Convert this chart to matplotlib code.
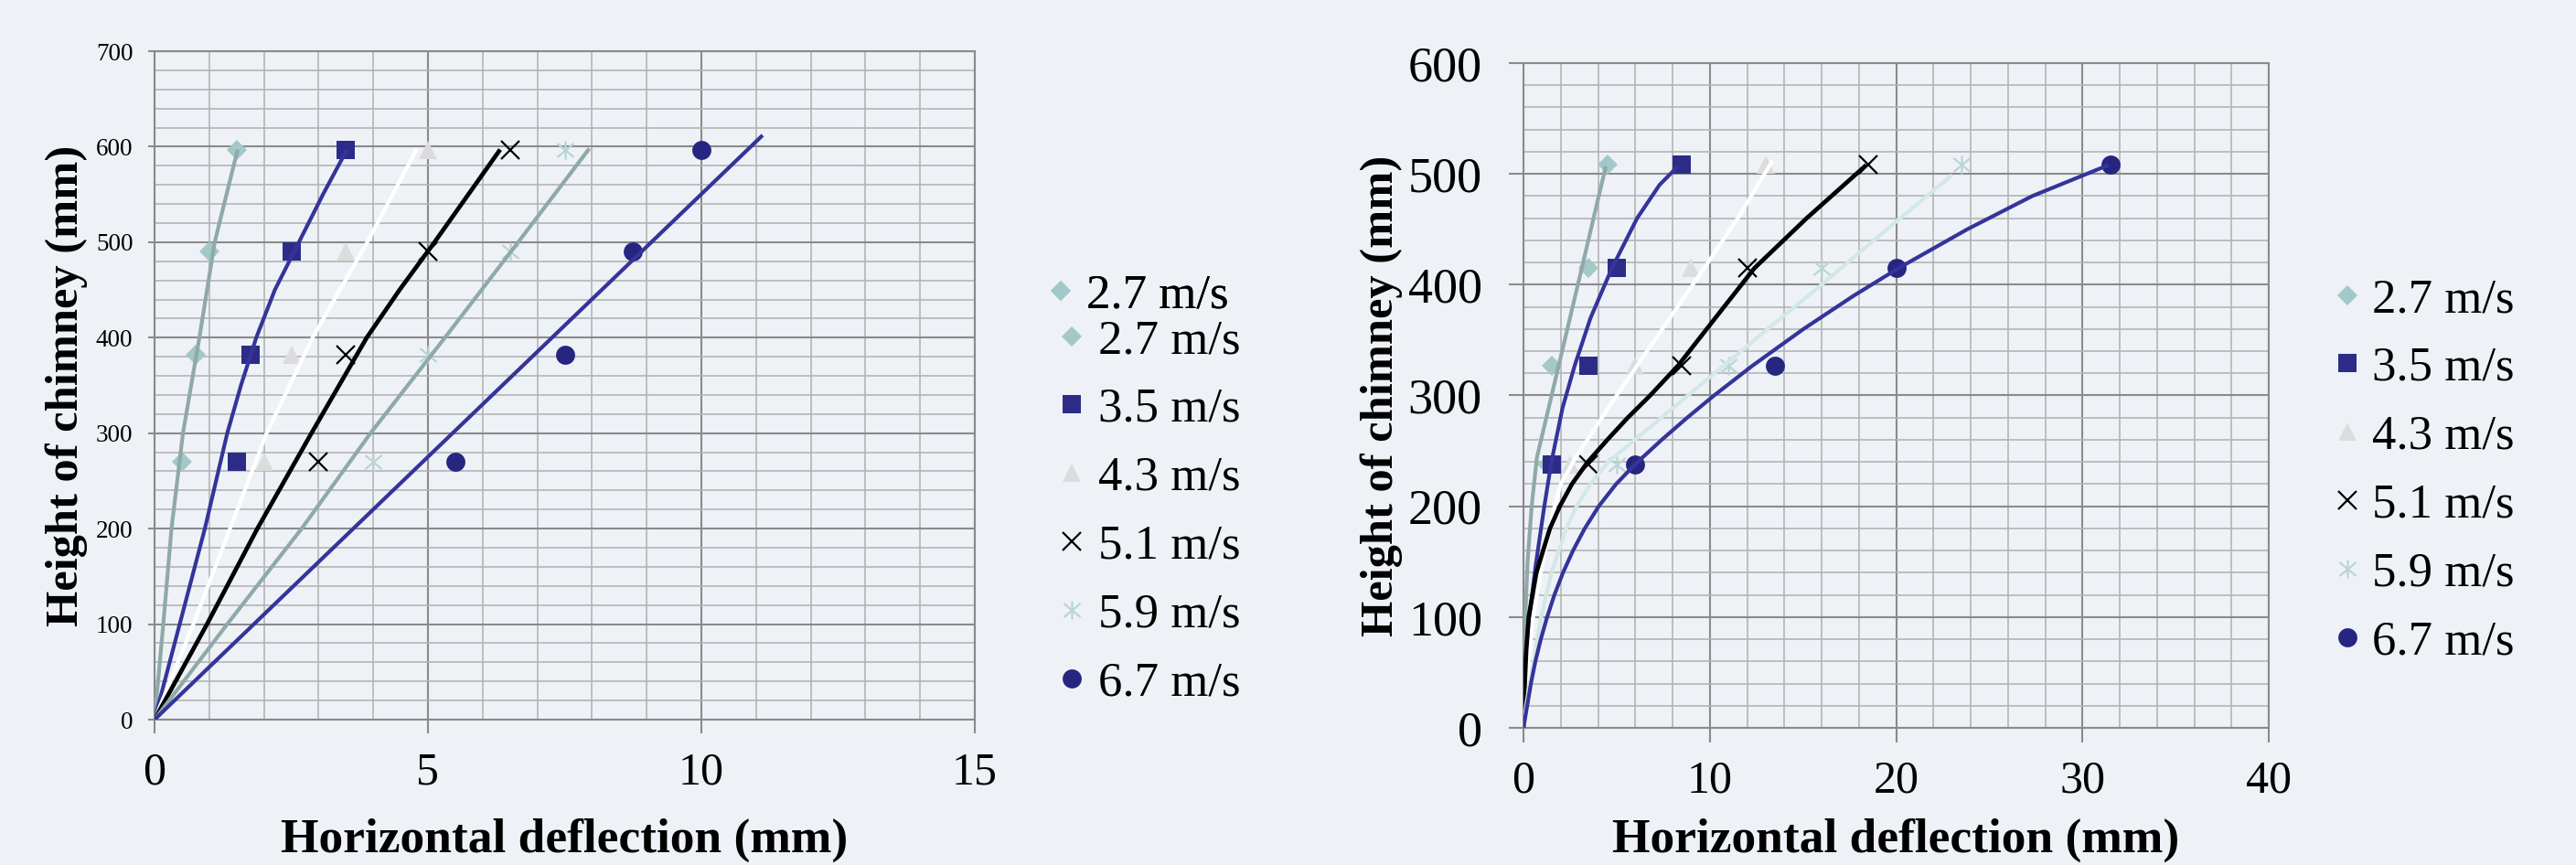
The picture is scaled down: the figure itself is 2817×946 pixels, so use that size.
import matplotlib
matplotlib.use("Agg")
import matplotlib.pyplot as plt
from matplotlib.lines import Line2D
from matplotlib.path import Path
from matplotlib.ticker import MultipleLocator

plt.rcParams['font.family'] = ['Liberation Serif', 'DejaVu Serif']

# ---------------- data ----------------
speeds = ["2.7 m/s", "3.5 m/s", "4.3 m/s", "5.1 m/s", "5.9 m/s", "6.7 m/s"]

# Left chart: measured points
left_heights = [270, 382, 490, 597]
left_defl = {
    "2.7 m/s": [0.5, 0.75, 1.0, 1.5],
    "3.5 m/s": [1.5, 1.75, 2.5, 3.5],
    "4.3 m/s": [2.0, 2.5, 3.5, 5.0],
    "5.1 m/s": [3.0, 3.5, 5.0, 6.5],
    "5.9 m/s": [4.0, 5.0, 6.5, 7.5],
    "6.7 m/s": [5.5, 7.5, 8.75, 10.0],
}
# Left chart: fitted curves
left_fit_x = {
    "2.7 m/s": [0, 0.16, 0.31, 0.52, 0.82, 1.10, 1.52],
    "3.5 m/s": [0, 0.46, 0.92, 1.33, 1.58, 1.86, 2.2, 2.64, 3.08, 3.52],
    "4.3 m/s": [0, 0.71, 1.38, 2.05, 2.89, 3.89, 4.80],
    "5.1 m/s": [0, 0.96, 1.88, 2.87, 3.88, 4.48, 5.12, 6.32],
    "5.9 m/s": [0, 1.33, 2.69, 3.95, 5.31, 6.65, 7.95],
    "6.7 m/s": [0, 11.12],
}
left_fit_y = {
    "2.7 m/s": [0, 100, 200, 300, 400, 500, 597],
    "3.5 m/s": [0, 100, 200, 300, 350, 400, 450, 500, 550, 597],
    "4.3 m/s": [0, 100, 200, 300, 400, 500, 598],
    "5.1 m/s": [0, 100, 200, 300, 400, 450, 500, 597],
    "5.9 m/s": [0, 100, 200, 300, 400, 500, 598],
    "6.7 m/s": [0, 612],
}

# Right chart: measured points
right_heights = [238, 327, 415, 508]
right_defl = {
    "2.7 m/s": [1.3, 1.5, 3.5, 4.5],
    "3.5 m/s": [1.5, 3.5, 5.0, 8.5],
    "4.3 m/s": [2.5, 6.0, 9.0, 13.0],
    "5.1 m/s": [3.5, 8.5, 12.0, 18.5],
    "5.9 m/s": [5.0, 11.0, 16.0, 23.5],
    "6.7 m/s": [6.0, 13.5, 20.0, 31.5],
}
# Right chart: fitted curves
right_fit_x = {
    "2.7 m/s": [0, 0.02, 0.10, 0.22, 0.44, 0.72, 1.51, 2.92, 4.42],
    "3.5 m/s": [0, 0.06, 0.28, 0.65, 1.1, 1.5, 2.1, 2.75, 3.6, 4.75, 6.1, 7.3, 8.3],
    "4.3 m/s": [0, 0.07, 0.28, 0.52, 0.93, 1.42, 1.67, 2.0, 2.8, 5.0, 6.1, 9.7, 11.5, 13.37],
    "5.1 m/s": [0, 0.02, 0.07, 0.15, 0.28, 0.69, 1.42, 1.95, 2.6, 3.45, 4.5, 5.6, 6.8, 8.3, 10.3, 12.4, 15.2, 17.2, 18.4],
    "5.9 m/s": [0, 0.14, 0.33, 0.55, 0.95, 1.5, 2.3, 2.85, 3.6, 4.55, 7.4, 10.25, 13.1, 16.0, 18.8, 21.65, 23.0],
    "6.7 m/s": [0, 0.2, 0.40, 0.64, 0.93, 1.27, 1.66, 2.12, 2.66, 3.29, 4.04, 4.97, 6.0, 7.42, 8.79, 10.23,
                12.3, 15.03, 17.72, 20.14, 23.82, 27.31, 31.4],
}
right_fit_y = {
    "2.7 m/s": [0, 50, 100, 150, 200, 244, 300, 400, 507],
    "3.5 m/s": [0, 50, 95, 146, 198, 240, 289, 327, 370, 415, 460, 490, 507],
    "4.3 m/s": [0, 20, 60, 100, 140, 180, 200, 220, 244, 300, 327, 415, 460, 512],
    "5.1 m/s": [0, 20, 40, 70, 100, 140, 180, 200, 220, 240, 260, 280, 300, 327, 370, 415, 460, 490, 508],
    "5.9 m/s": [0, 20, 40, 60, 100, 140, 180, 200, 220, 240, 280, 320, 360, 400, 440, 480, 499],
    "6.7 m/s": [0, 20, 40, 60, 80, 100, 120, 140, 160, 180, 200, 220, 238, 260, 280, 300,
                327, 360, 390, 415, 450, 480, 508],
}

# ---------------- styles ----------------
BG = "#eef2f7"
asterisk = Path([(0, -1), (0, 1), (-0.9, -0.75), (0.9, 0.75), (-0.9, 0.75), (0.9, -0.75)],
                [Path.MOVETO, Path.LINETO, Path.MOVETO, Path.LINETO, Path.MOVETO, Path.LINETO])
mstyle = {
    "2.7 m/s": dict(marker="D", ms=11.0, color="#a2c8c8"),
    "3.5 m/s": dict(marker="s", ms=15.0, color="#2c2c88"),
    "4.3 m/s": dict(marker="^", ms=15.0, color="#dcdcdc"),
    "5.1 m/s": dict(marker="x", ms=14.5, color="#000000", mew=1.6),
    "5.9 m/s": dict(marker=asterisk, ms=14.5, color="#b9d6d3", mew=1.6),
    "6.7 m/s": dict(marker="o", ms=15.0, color="#262680"),
}
left_line = {"2.7 m/s": "#8fa9a9", "3.5 m/s": "#34349a", "4.3 m/s": "#ffffff",
             "5.1 m/s": "#000000", "5.9 m/s": "#8fa9a9", "6.7 m/s": "#34349a"}
right_line = {"2.7 m/s": "#8fa9a9", "3.5 m/s": "#34349a", "4.3 m/s": "#ffffff",
              "5.1 m/s": "#000000", "5.9 m/s": "#d3e8e6", "6.7 m/s": "#34349a"}
MAJ = "#8a8a8a"
MIN = "#b4b4b4"

fig = plt.figure(figsize=(28.17, 9.46), dpi=100, facecolor=BG)
W, H = 2817, 946


def make_axes(l, r, t, b):
    return fig.add_axes([l / W, 1 - b / H, (r - l) / W, (b - t) / H])


def style_axes(ax, xmax, xmaj, xmin, ymax, ymaj, ymin):
    ax.set_facecolor(BG)
    ax.set_xlim(0, xmax)
    ax.set_ylim(0, ymax)
    ax.xaxis.set_major_locator(MultipleLocator(xmaj))
    ax.xaxis.set_minor_locator(MultipleLocator(xmin))
    ax.yaxis.set_major_locator(MultipleLocator(ymaj))
    ax.yaxis.set_minor_locator(MultipleLocator(ymin))
    ax.grid(which="major", color=MAJ, lw=1.5)
    ax.grid(which="minor", color=MIN, lw=1.2)
    ax.set_axisbelow(True)
    for s in ax.spines.values():
        s.set_color(MAJ)
        s.set_linewidth(1.5)
    ax.tick_params(which="minor", length=0)


def draw(ax, heights, defl, fx, fy, lcolors):
    for sp in speeds:
        st = mstyle[sp]
        ax.plot(defl[sp], heights, linestyle="none", marker=st["marker"], ms=st["ms"],
                color=st["color"], mec=st["color"], mew=st.get("mew", 0), zorder=3,
                clip_on=False)
    for sp in speeds:
        lw = 3.4 if sp == "5.1 m/s" else 3.0
        ax.plot(fx[sp], fy[sp], color=lcolors[sp], lw=lw, zorder=4,
                solid_capstyle="butt", solid_joinstyle="round")


def handle(sp, scale=1.0):
    st = mstyle[sp]
    return Line2D([], [], linestyle="none", marker=st["marker"], ms=st["ms"] * scale,
                  color=st["color"], mec=st["color"], mew=st.get("mew", 0))


# ---------------- left chart ----------------
axL = make_axes(169, 1066, 56, 787)
style_axes(axL, 15, 5, 1, 700, 100, 20)
draw(axL, left_heights, left_defl, left_fit_x, left_fit_y, left_line)
axL.tick_params(axis="y", which="major", length=5, width=1.5, color=MAJ, pad=12, labelsize=19.5)
axL.tick_params(axis="x", which="major", length=11, width=1.5, color=MAJ, pad=14, labelsize=36)
axL.set_xlabel("Horizontal deflection (mm)", fontsize=38.5, fontweight="bold")
axL.set_ylabel("Height of chimney (mm)", fontsize=36.4, fontweight="bold")
axL.xaxis.set_label_coords(0.5, (787 - 895) / 731)
axL.yaxis.set_label_coords((96 - 169) / 897, 0.5)

FS = 38
leg0 = fig.legend([handle("2.7 m/s", 1.05)], ["2.7 m/s"], loc="upper left",
                  bbox_to_anchor=(1147 / W, 1 - 299 / H), frameon=False, fontsize=FS,
                  handlelength=0.5, handletextpad=0.28, borderpad=0, borderaxespad=0)
legL = fig.legend([handle(s) for s in speeds], speeds, loc="upper left",
                  bbox_to_anchor=(1159 / W, 1 - 349 / H), frameon=False, fontsize=FS,
                  handlelength=0.5, handletextpad=0.3, borderpad=0, borderaxespad=0,
                  labelspacing=0.51)
fig.add_artist(leg0)

# ---------------- right chart ----------------
axR = make_axes(1666, 2481, 69, 796)
style_axes(axR, 40, 10, 2, 600, 100, 20)
draw(axR, right_heights, right_defl, right_fit_x, right_fit_y, right_line)
axR.tick_params(axis="y", which="major", length=11.5, width=1.5, color=MAJ, pad=21, labelsize=39)
axR.tick_params(axis="x", which="major", length=11.5, width=1.5, color=MAJ, pad=14, labelsize=36)
axR.set_xlabel("Horizontal deflection (mm)", fontsize=38.5, fontweight="bold")
axR.set_ylabel("Height of chimney (mm)", fontsize=36.4, fontweight="bold")
axR.xaxis.set_label_coords(0.5, (796 - 895) / 727)
axR.yaxis.set_label_coords((1534 - 1666) / 815, 0.5)

legR = fig.legend([handle(s) for s in speeds], speeds, loc="upper left",
                  bbox_to_anchor=(2554 / W, 1 - 304 / H), frameon=False, fontsize=FS,
                  handlelength=0.5, handletextpad=0.25, borderpad=0, borderaxespad=0,
                  labelspacing=0.51)

fig.savefig("out.png", dpi=100, facecolor=BG)
